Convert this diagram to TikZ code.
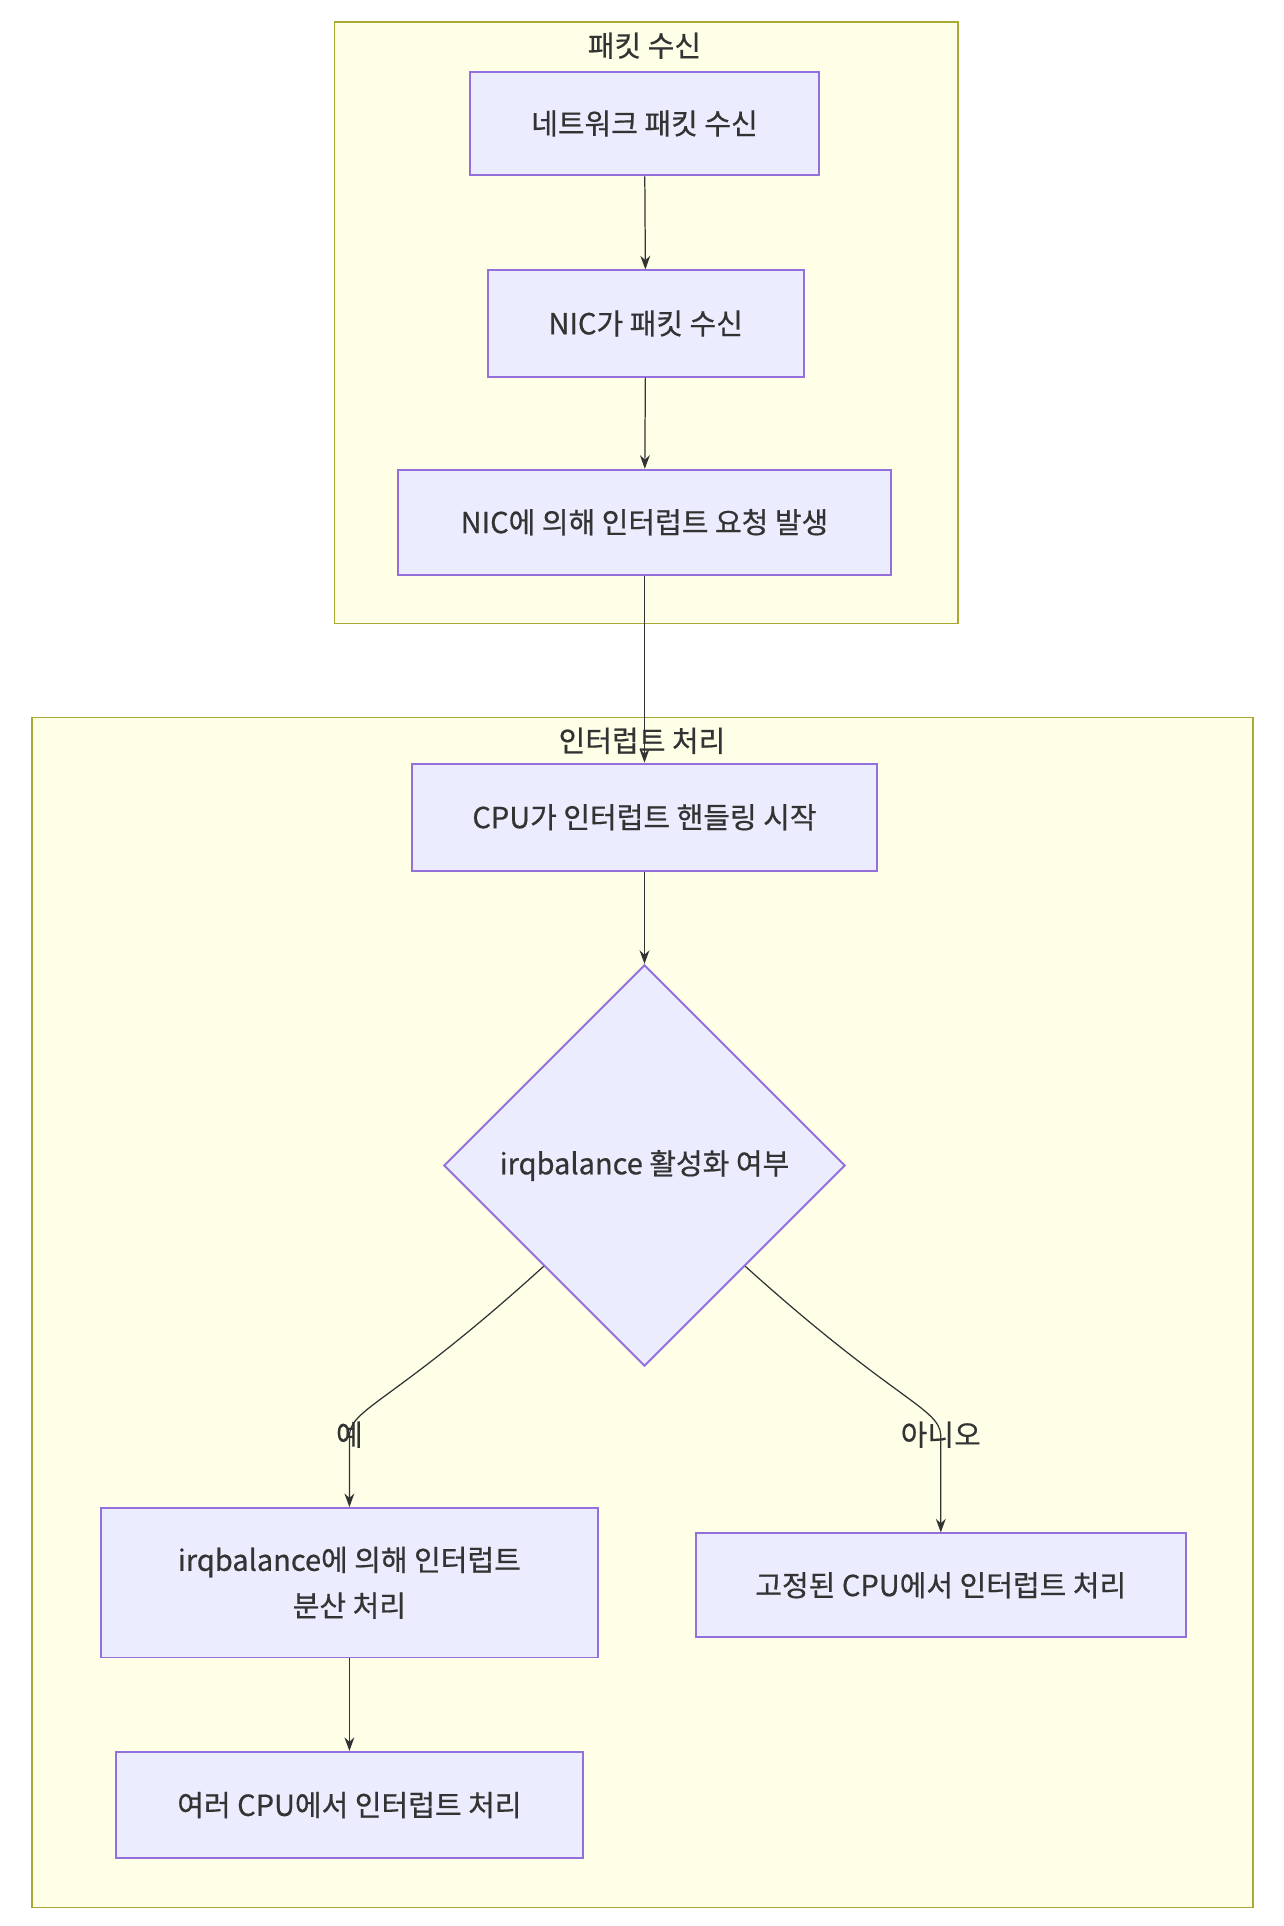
\documentclass[tikz,border=0pt]{standalone}
\usepackage{fontspec}
\setmainfont{Noto Sans CJK KR}[FakeBold=0.6]
\usetikzlibrary{shapes.geometric,arrows.meta}
\definecolor{boxfill}{HTML}{ECECFF}
\definecolor{boxline}{HTML}{9370DB}
\definecolor{grpfill}{HTML}{FFFFDE}
\definecolor{grpline}{HTML}{AAAA33}
\definecolor{ink}{HTML}{333333}

\begin{document}
\begin{tikzpicture}[x=1pt,y=-1pt,
    font=\fontsize{23.5}{37}\selectfont,
    box/.style={shape=rectangle,draw=boxline,fill=boxfill,line width=1.6pt,text=ink,align=center,inner sep=0pt},
    group/.style={shape=rectangle,draw=grpline,fill=grpfill!70!white,line width=1.2pt,inner sep=0pt},
    caption/.style={text=ink,inner sep=1pt},
    flow/.style={draw=ink,line width=1pt,-{Stealth[length=11pt,width=8pt]}}]
  \useasboundingbox[fill=white] (0,0) rectangle (1040,1560);

  % groups
  \node[group, minimum width=505pt, minimum height=487pt] (recv) at (523.5,261.5) {};
  \node[group, minimum width=989pt, minimum height=964pt] (intr) at (520.5,1063) {};
  \node[caption] (recvtitle) at (522,37) {패킷 수신};
  \node[caption] (intrtitle) at (520,600) {인터럽트 처리};

  % steps
  \node[box, minimum width=282pt, minimum height=84pt] (net) at (522,100) {네트워크 패킷 수신};
  \node[box, minimum width=256pt, minimum height=86pt] (nicrx) at (523,262) {NIC가 패킷 수신};
  \node[box, minimum width=400pt, minimum height=85pt] (irq) at (522,423) {NIC에 의해 인터럽트 요청 발생};
  \node[box, minimum width=377pt, minimum height=87pt] (cpu) at (522,662) {CPU가 인터럽트 핸들링 시작};
  \node[box, shape=diamond, minimum width=325pt, minimum height=325pt] (dec) at (522,944) {irqbalance 활성화 여부};
  \node[box, minimum width=403pt, minimum height=121pt] (spread) at (283,1282) {irqbalance에 의해 인터럽트\\분산 처리};
  \node[box, minimum width=397pt, minimum height=84pt] (fixed) at (762,1284) {고정된 CPU에서 인터럽트 처리};
  \node[box, minimum width=378pt, minimum height=86pt] (multi) at (283,1462) {여러 CPU에서 인터럽트 처리};

  % edge labels
  \node[caption] (yeslbl) at (283,1162) {예};
  \node[caption] (nolbl) at (762,1162) {아니오};

  \draw[flow] (net) -- (nicrx);
  \draw[flow] (nicrx) -- (irq);
  \draw[flow] (irq) -- (cpu);
  \draw[flow] (cpu) -- (dec);
  \draw[flow] (dec.south west) .. controls (320,1135) and (285,1140) .. (yeslbl.center) -- (spread);
  \draw[flow] (dec.south east) .. controls (725,1135) and (760,1140) .. (nolbl.center) -- (fixed);
  \draw[flow] (spread) -- (multi);
\end{tikzpicture}
\end{document}
